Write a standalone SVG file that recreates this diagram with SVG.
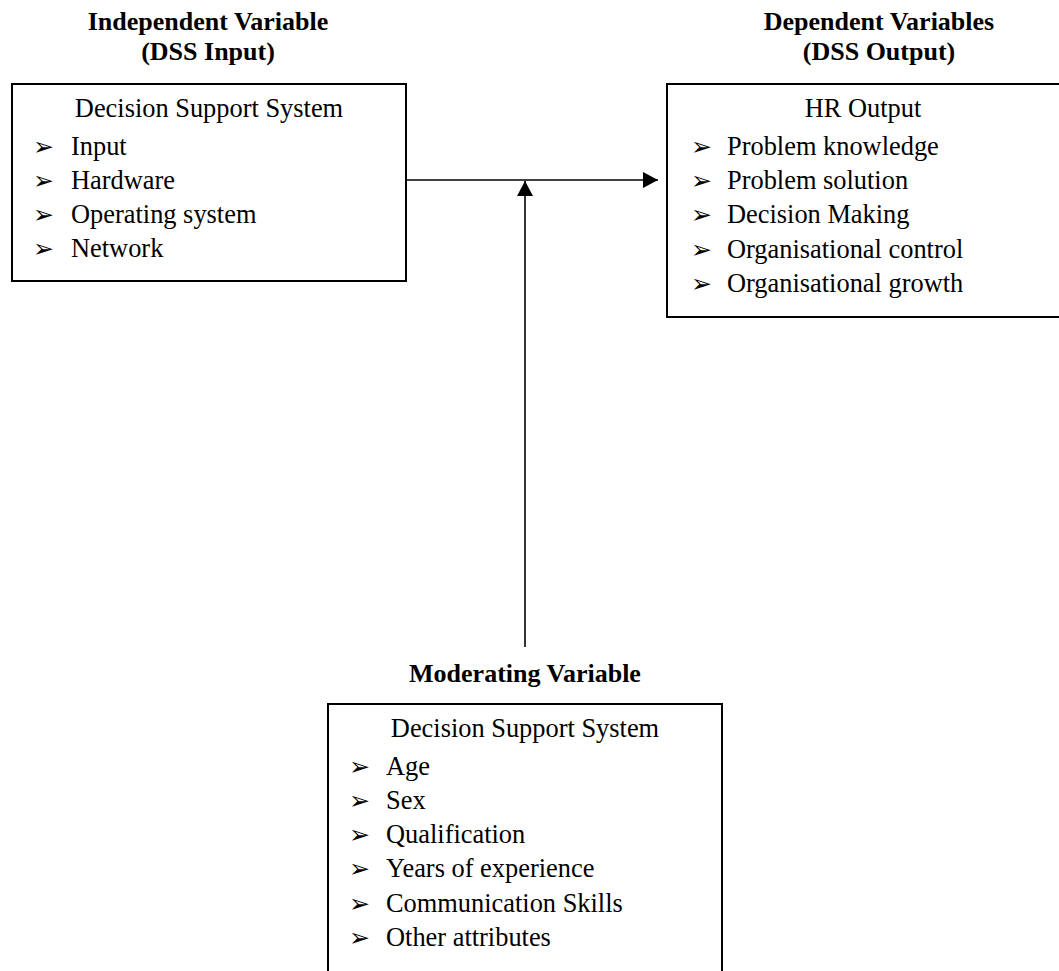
<svg xmlns="http://www.w3.org/2000/svg" width="1059" height="971" viewBox="0 0 1059 971">
<defs>
<style>
.box{fill:#fff;stroke:#000;stroke-width:2}
.t{font-family:"Liberation Serif","Times New Roman",serif;font-size:26.4px;fill:#000}
.h{font-family:"Liberation Serif","Times New Roman",serif;font-size:26px;font-weight:bold;fill:#000;text-anchor:middle}
.c{text-anchor:middle}
.b{font-family:"DejaVu Sans",sans-serif;font-size:25px;fill:#000}
.ln{stroke:#000;stroke-width:1.6;fill:none}
</style>
<marker id="ah" markerWidth="16" markerHeight="16" refX="15" refY="8" orient="auto" markerUnits="userSpaceOnUse">
<path d="M0,0 L15,8 L0,16 Z" fill="#000"/>
</marker>
</defs>
<rect width="1059" height="971" fill="#fff"/>

<g id="independent">
<text class="h" x="208" y="30">Independent Variable</text>
<text class="h" x="208" y="60">(DSS Input)</text>
<rect class="box" x="12" y="84" width="394" height="197"/>
<text class="t c" x="209" y="117">Decision Support System</text>
<text class="b" x="33" y="155">➢</text><text class="t" x="71" y="155">Input</text>
<text class="b" x="33" y="189">➢</text><text class="t" x="71" y="189">Hardware</text>
<text class="b" x="33" y="223">➢</text><text class="t" x="71" y="223">Operating system</text>
<text class="b" x="33" y="257">➢</text><text class="t" x="71" y="257">Network</text>
</g>

<g id="dependent">
<text class="h" x="879" y="30">Dependent Variables</text>
<text class="h" x="879" y="60">(DSS Output)</text>
<rect class="box" x="667" y="84" width="410" height="233"/>
<text class="t c" x="863" y="117">HR Output</text>
<text class="b" x="691" y="155">➢</text><text class="t" x="727" y="155">Problem knowledge</text>
<text class="b" x="691" y="189">➢</text><text class="t" x="727" y="189">Problem solution</text>
<text class="b" x="691" y="223">➢</text><text class="t" x="727" y="223">Decision Making</text>
<text class="b" x="691" y="258">➢</text><text class="t" x="727" y="258">Organisational control</text>
<text class="b" x="691" y="292">➢</text><text class="t" x="727" y="292">Organisational growth</text>
</g>

<g id="moderating">
<text class="h" x="525" y="682">Moderating Variable</text>
<rect class="box" x="328" y="704" width="394" height="290"/>
<text class="t c" x="525" y="737">Decision Support System</text>
<text class="b" x="349" y="775">➢</text><text class="t" x="386" y="775">Age</text>
<text class="b" x="349" y="809">➢</text><text class="t" x="386" y="809">Sex</text>
<text class="b" x="349" y="843">➢</text><text class="t" x="386" y="843">Qualification</text>
<text class="b" x="349" y="877">➢</text><text class="t" x="386" y="877">Years of experience</text>
<text class="b" x="349" y="912">➢</text><text class="t" x="386" y="912">Communication Skills</text>
<text class="b" x="349" y="946">➢</text><text class="t" x="386" y="946">Other attributes</text>
</g>

<g id="connectors">
<line class="ln" x1="406" y1="180" x2="658" y2="180" marker-end="url(#ah)"/>
<line class="ln" x1="525" y1="647" x2="525" y2="181" marker-end="url(#ah)"/>
</g>
</svg>
